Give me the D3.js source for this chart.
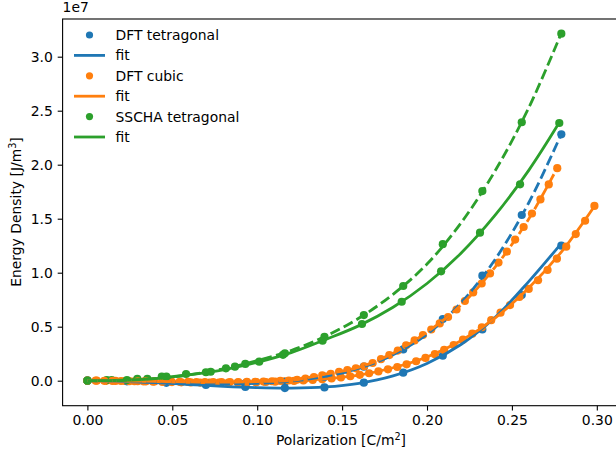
<!DOCTYPE html>
<html>
<head>
<meta charset="utf-8">
<script src="https://cdn.jsdelivr.net/npm/d3@7"></script>
<style>
  body { margin: 0; background: #fff; }
  svg text { font-family: "DejaVu Sans", sans-serif; font-size: 13.9px; fill: #000; }
</style>
</head>
<body>
<div id="chart"></div>
<script>
// energy density values are in units of 1e7 J/m^3
const xTicks = [0, 0.05, 0.10, 0.15, 0.20, 0.25, 0.30];
const yTicks = [0, 0.5, 1.0, 1.5, 2.0, 2.5, 3.0];

// polarization grid shared by the coarse tetragonal runs
const pCoarse = [0, 0.0233, 0.0465, 0.0698, 0.093, 0.1163, 0.1396, 0.1628, 0.186, 0.2093, 0.2326, 0.2558, 0.2791];

const eTetraDFT = [0, -0.006, -0.02, -0.04, -0.058, -0.068, -0.062, -0.018, 0.074, 0.231, 0.475, 0.793, 1.25];
const eTetraDFT2 = [0, -0.003, -0.012, -0.022, -0.025, -0.01, 0.035, 0.13, 0.29, 0.571, 0.972, 1.534, 2.281];

const pCubic = [0, 0.0055, 0.0111, 0.0166, 0.0221, 0.0277, 0.0332, 0.0387, 0.0442, 0.0498, 0.0553, 0.0608, 0.0664, 0.0719,
  0.0774, 0.0830, 0.0885, 0.0940, 0.0995, 0.1051, 0.1106, 0.1161, 0.1217, 0.1272, 0.1327, 0.1383, 0.1438, 0.1493, 0.1548,
  0.1604, 0.1659, 0.1714, 0.1770, 0.1825, 0.1880, 0.1936, 0.1991, 0.2046, 0.2101, 0.2157, 0.2212, 0.2267, 0.2323, 0.2378,
  0.2433, 0.2489, 0.2544, 0.2599, 0.2654, 0.2710, 0.2765, 0.2820, 0.2876, 0.2931, 0.2986];
const eCubic = [0, 0, -0.001, -0.002, -0.003, -0.005, -0.007, -0.009, -0.011, -0.013, -0.015, -0.016, -0.017, -0.018,
  -0.018, -0.018, -0.017, -0.016, -0.014, -0.012, -0.009, -0.006, -0.002, 0.002, 0.007, 0.013, 0.021, 0.030, 0.041,
  0.054, 0.069, 0.086, 0.105, 0.127, 0.152, 0.180, 0.211, 0.246, 0.285, 0.330, 0.380, 0.435, 0.495, 0.560,
  0.630, 0.700, 0.775, 0.850, 0.930, 1.025, 1.130, 1.241, 1.358, 1.481, 1.618];

const pCubic2 = [0, 0.0049, 0.0099, 0.0148, 0.0198, 0.0247, 0.0296, 0.0346, 0.0395, 0.0445, 0.0494, 0.0543, 0.0593, 0.0642,
  0.0692, 0.0741, 0.0790, 0.0840, 0.0889, 0.0939, 0.0988, 0.1037, 0.1087, 0.1136, 0.1186, 0.1235, 0.1284, 0.1334, 0.1383,
  0.1433, 0.1482, 0.1531, 0.1581, 0.1630, 0.1680, 0.1729, 0.1778, 0.1828, 0.1877, 0.1927, 0.1976, 0.2025, 0.2075, 0.2124,
  0.2174, 0.2223, 0.2272, 0.2322, 0.2371, 0.2421, 0.2470, 0.2519, 0.2569, 0.2618, 0.2668, 0.2717, 0.2767];
const eCubic2 = [0, 0, -0.001, -0.002, -0.003, -0.004, -0.005, -0.006, -0.007, -0.008, -0.009, -0.010, -0.011, -0.012,
  -0.012, -0.013, -0.013, -0.013, -0.012, -0.011, -0.010, -0.008, -0.005, -0.002, 0.002, 0.009, 0.019, 0.033, 0.049,
  0.064, 0.081, 0.098, 0.115, 0.134, 0.164, 0.199, 0.237, 0.279, 0.328, 0.373, 0.423, 0.474, 0.530, 0.590,
  0.659, 0.738, 0.817, 0.900, 0.993, 1.094, 1.196, 1.307, 1.423, 1.548, 1.678, 1.817, 1.968];

const pSscha = [0, 0.0114, 0.0143, 0.0294, 0.0353, 0.0438, 0.0581, 0.0726, 0.0816, 0.0869, 0.1012, 0.1152, 0.1385, 0.1617, 0.1851, 0.2083, 0.2312, 0.2548, 0.2779];
const eSscha = [0, 0.006, 0.006, 0.016, 0.018, 0.037, 0.062, 0.083, 0.115, 0.13, 0.176, 0.24, 0.37, 0.525, 0.731, 1.013, 1.371, 1.818, 2.386];
const eSscha2 = [0, 0.006, 0.037, 0.078, 0.155, 0.254, 0.405, 0.608, 0.877, 1.264, 1.756, 2.393, 3.213];

// fitted curves
const pFitTetra = [0, 0.02, 0.04, 0.06, 0.08, 0.10, 0.12, 0.14, 0.16, 0.18, 0.20, 0.22, 0.24, 0.26, 0.279];
const fitTetra = [0, -0.005, -0.018, -0.035, -0.052, -0.064, -0.068, -0.058, -0.024, 0.045, 0.16, 0.335, 0.585, 0.92, 1.27];
const fitTetra2 = [0, -0.003, -0.011, -0.02, -0.026, -0.024, -0.004, 0.04, 0.115, 0.24, 0.43, 0.72, 1.12, 1.65, 2.28];
const pFitCubic = [0, 0.02, 0.04, 0.06, 0.08, 0.10, 0.12, 0.14, 0.16, 0.18, 0.20, 0.22, 0.24, 0.26, 0.28, 0.2988];
const fitCubic = [0, -0.003, -0.009, -0.015, -0.018, -0.015, -0.004, 0.018, 0.052, 0.12, 0.22, 0.37, 0.58, 0.86, 1.21, 1.62];
const pFitCubic2 = [0, 0.02, 0.04, 0.06, 0.08, 0.10, 0.12, 0.14, 0.16, 0.18, 0.20, 0.22, 0.24, 0.26, 0.2767];
const fitCubic2 = [0, -0.002, -0.006, -0.011, -0.013, -0.008, 0.004, 0.06, 0.125, 0.255, 0.45, 0.70, 1.05, 1.50, 1.97];
const pFitSscha = [0, 0.02, 0.04, 0.06, 0.08, 0.10, 0.12, 0.14, 0.16, 0.18, 0.20, 0.22, 0.24, 0.26, 0.2779];
const fitSscha = [0, 0.004, 0.02, 0.055, 0.10, 0.17, 0.26, 0.38, 0.51, 0.68, 0.90, 1.18, 1.53, 1.95, 2.39];
const pFitSscha2 = [0, 0.02, 0.04, 0.06, 0.08, 0.10, 0.12, 0.14, 0.16, 0.18, 0.20, 0.22, 0.24, 0.26, 0.2789];
const fitSscha2 = [0, 0.002, 0.02, 0.055, 0.11, 0.185, 0.28, 0.41, 0.58, 0.80, 1.08, 1.46, 1.94, 2.53, 3.21];

const legendLabels = ["DFT tetragonal", "fit", "DFT cubic", "fit", "SSCHA tetragonal", "fit"];

const blue = "#1f77b4", orange = "#ff7f0e", green = "#2ca02c";

const width = 616, height = 460;
const svg = d3.select("#chart").append("svg").attr("width", width).attr("height", height);

const x = d3.scaleLinear().domain([-0.0146, 0.3133]).range([62.6, 619.4]);
const y = d3.scaleLinear().domain([-0.2315, 3.349]).range([405.7, 19]);

svg.append("clipPath").attr("id", "plot-clip")
  .append("rect").attr("x", 62.6).attr("y", 19).attr("width", 556.8).attr("height", 386.7);

const zip = (ps, es) => ps.map((p, i) => [p, es[i]]);

const plot = svg.append("g").attr("clip-path", "url(#plot-clip)");

// scatter points (drawn under the lines, like matplotlib)
const scatterSets = [
  [pCoarse, eTetraDFT, blue], [pCubic, eCubic, orange], [pSscha, eSscha, green],
  [pCoarse, eTetraDFT2, blue], [pCubic2, eCubic2, orange], [pCoarse, eSscha2, green]
];
scatterSets.forEach(([ps, es, c]) => {
  plot.append("g").selectAll("circle")
    .data(zip(ps, es))
    .enter().append("circle")
    .attr("cx", d => x(d[0]))
    .attr("cy", d => y(d[1]))
    .attr("r", 4.1)
    .style("fill", c);
});

const line = d3.line().x(d => x(d[0])).y(d => y(d[1])).curve(d3.curveCatmullRom);
const fitSets = [
  [pFitTetra, fitTetra, blue, null], [pFitCubic, fitCubic, orange, null], [pFitSscha, fitSscha, green, null],
  [pFitTetra, fitTetra2, blue, "10.3,4.4"], [pFitCubic2, fitCubic2, orange, "10.3,4.4"], [pFitSscha2, fitSscha2, green, "10.3,4.4"]
];
fitSets.forEach(([ps, es, c, dash]) => {
  plot.append("path")
    .attr("d", line(zip(ps, es)))
    .attr("fill", "none")
    .attr("stroke", c)
    .attr("stroke-width", 2.8)
    .attr("stroke-dasharray", dash);
});

// axes
const xAxis = svg.append("g").attr("transform", "translate(0,405.7)")
  .call(d3.axisBottom(x).tickValues(xTicks).tickFormat(d3.format(".2f")).tickSize(4.9).tickPadding(4.2).tickSizeOuter(0));
const yAxis = svg.append("g").attr("transform", "translate(62.6,0)")
  .call(d3.axisLeft(y).tickValues(yTicks).tickFormat(d3.format(".1f")).tickSize(4.9).tickPadding(4.9).tickSizeOuter(0));
[xAxis, yAxis].forEach(a => {
  a.attr("font-family", null).attr("font-size", null);
  a.select(".domain").remove();
  a.selectAll("line").attr("stroke", "#000").attr("stroke-width", 1.1);
});

// spines
svg.append("rect")
  .attr("x", 62.6).attr("y", 19).attr("width", 556.8).attr("height", 386.7)
  .attr("fill", "none").attr("stroke", "#000").attr("stroke-width", 1.1);

svg.append("text").attr("x", 62.6).attr("y", 12).text("1e7");

const xl = svg.append("text").attr("x", 341).attr("y", 445).attr("text-anchor", "middle");
xl.append("tspan").text("Polarization [C/m");
xl.append("tspan").attr("font-size", "9.7px").attr("dy", -5).text("2");
xl.append("tspan").attr("dy", 5).text("]");

const yl = svg.append("text").attr("transform", "translate(21,212) rotate(-90)").attr("text-anchor", "middle");
yl.append("tspan").text("Energy Density [J/m");
yl.append("tspan").attr("font-size", "9.7px").attr("dy", -5).text("3");
yl.append("tspan").attr("dy", 5).text("]");

// legend (no frame)
const legend = svg.append("g").selectAll(".legend")
  .data(legendLabels)
  .enter().append("g")
  .attr("class", "legend")
  .attr("transform", (d, i) => `translate(0, ${35 + i * 20.4})`);
legend.each(function (d, i) {
  const g = d3.select(this);
  const c = [blue, blue, orange, orange, green, green][i];
  if (i % 2 === 0) {
    g.append("circle").attr("cx", 89.5).attr("cy", 0).attr("r", 3.6).style("fill", c);
  } else {
    g.append("line").attr("x1", 74).attr("x2", 105).attr("y1", 0).attr("y2", 0)
      .attr("stroke", c).attr("stroke-width", 2.8);
  }
  g.append("text").attr("x", 115.5).attr("y", 0).attr("dy", "0.36em").text(d);
});
</script>
</body>
</html>
